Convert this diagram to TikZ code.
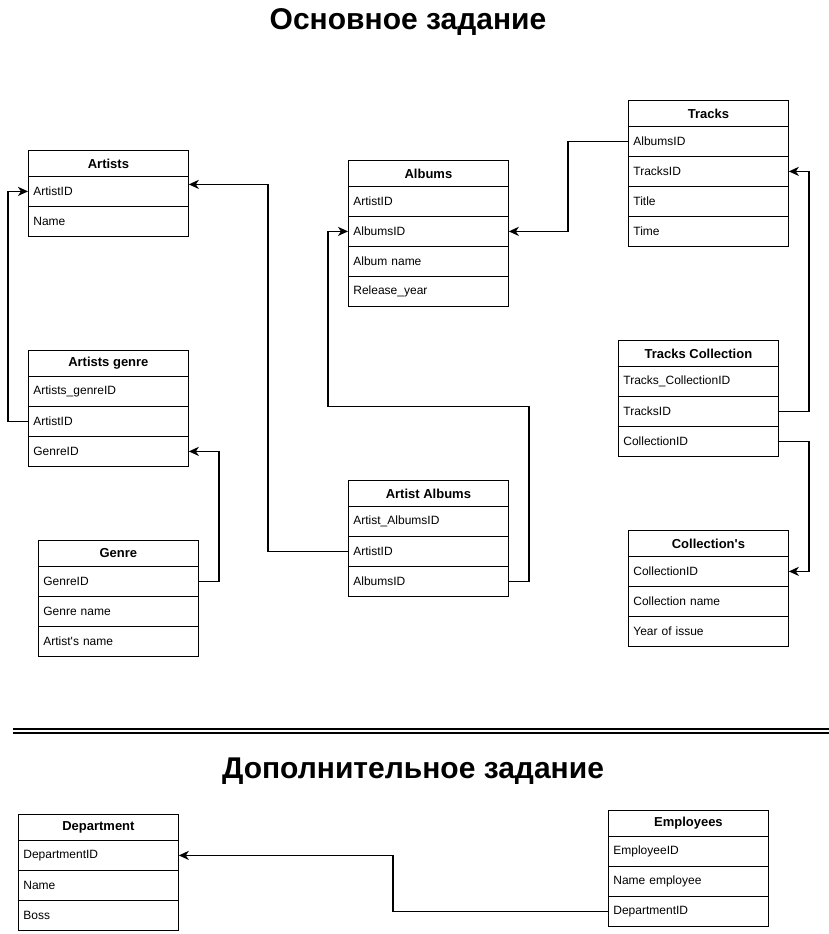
\documentclass[tikz,border=0pt]{standalone}
\usepackage{fontspec}
\setmainfont{Liberation Sans}
\usetikzlibrary{arrows.meta}
\tikzset{
  hdr/.style={draw=black, line width=0.8pt, minimum width=160pt, minimum height=26pt, inner sep=0pt, font=\bfseries\fontsize{13}{15}\selectfont, anchor=north west},
  rowbox/.style={draw=black, line width=0.8pt, minimum width=160pt, minimum height=30pt, text width=150pt, inner xsep=5pt, inner ysep=0pt, align=left, font=\fontsize{12}{14}\selectfont, anchor=north west},
  conn/.style={draw=black, line width=1.8pt, -{Stealth[length=10pt,width=9pt,inset=3pt]}},
  titletext/.style={font=\bfseries\fontsize{30}{34}\selectfont}
}
\newcommand{\ertable}[5]{%
  \node[hdr] (#1) at (#2,#3) {#4};
  \foreach \f [count=\i] in {#5} {
    \node[rowbox] (#1-\i) at ({#2},{#3+26+30*(\i-1)}) {\f};
  }%
}
\begin{document}
\begin{tikzpicture}[x=1pt,y=-1pt]
\useasboundingbox (0,0) rectangle (829,934);
\node[titletext] (t1) at (408,22) {Основное задание};
\node[titletext] (t2) at (413,771) {Дополнительное задание};
\draw[line width=1.5pt] (13,729) -- (829,729);
\draw[line width=1.5pt] (13,733) -- (829,733);

\ertable{artists}{28}{150}{Artists}{ArtistID,Name}
\ertable{ag}{28}{350}{Artists genre}{Artists\_genreID,ArtistID,GenreID}
\ertable{genre}{38}{540}{Genre}{GenreID,Genre name,Artist\textquotesingle s name}
\ertable{albums}{348}{160}{Albums}{ArtistID,AlbumsID,Album name,Release\_year}
\ertable{aa}{348}{480}{Artist Albums}{Artist\_AlbumsID,ArtistID,AlbumsID}
\ertable{tracks}{628}{100}{Tracks}{AlbumsID,TracksID,Title,Time}
\ertable{tc}{618}{340}{Tracks Collection}{Tracks\_CollectionID,TracksID,CollectionID}
\ertable{coll}{628}{530}{Collection\textquotesingle s}{CollectionID,Collection name,Year of issue}
\ertable{dept}{18}{814}{Department}{DepartmentID,Name,Boss}
\ertable{emp}{608}{810}{Employees}{EmployeeID,Name employee,DepartmentID}

\draw[conn] (ag-2.west) -- ++(-20,0) |- (artists-1.west);
\draw[conn] (aa-2.west) -- ++(-80,0) |- ([yshift=7pt]artists-1.east);
\draw[conn] (genre-1.east) -- ++(20,0) |- (ag-3.east);
\draw[conn] (aa-3.east) -- ++(20,0) -- ++(0,-175) -| ([xshift=-20pt]albums-2.west) -- (albums-2.west);
\draw[conn] (tracks-1.west) -- ++(-60,0) |- (albums-2.east);
\draw[conn] (tc-2.east) -- ++(30,0) |- (tracks-2.east);
\draw[conn] (tc-3.east) -- ++(30,0) |- (coll-1.east);
\draw[conn] (emp-3.west) -- ++(-215,0) |- (dept-1.east);
\end{tikzpicture}
\end{document}
